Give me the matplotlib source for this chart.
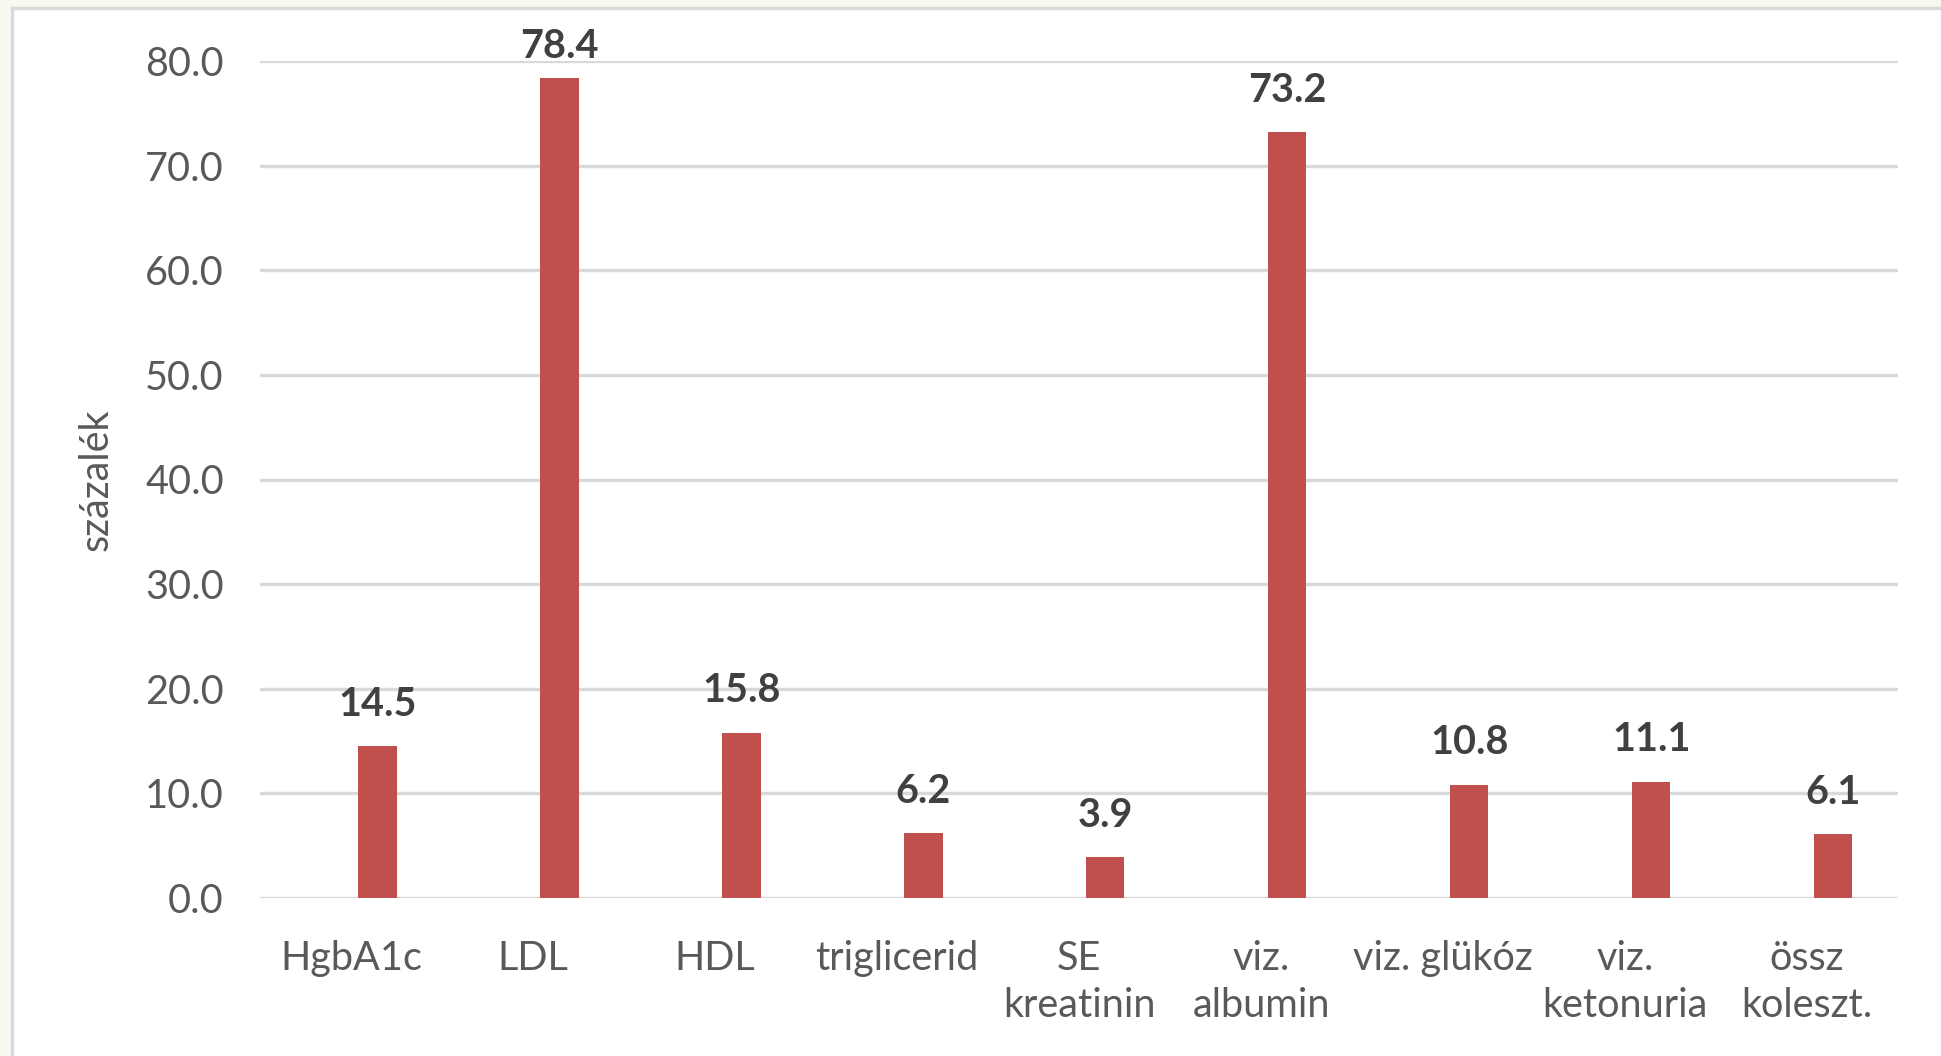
import matplotlib.pyplot as plt
from matplotlib.patches import Rectangle

# adatok
categories = ["HgbA1c", "LDL", "HDL", "triglicerid", "SE\nkreatinin",
              "viz.\nalbumin", "viz. glükóz", "viz.\nketonuria", "össz\nkoleszt."]
values = [14.5, 78.4, 15.8, 6.2, 3.9, 73.2, 10.8, 11.1, 6.1]
yticks = [0, 10, 20, 30, 40, 50, 60, 70, 80]

plt.rcParams['font.family'] = ['Lato', 'DejaVu Sans']

W, H = 1941, 1056
fig = plt.figure(figsize=(W / 100, H / 100), dpi=100)
fig.patch.set_facecolor('#F8F8F1')

# chart frame (cut off on right and bottom)
frame = Rectangle((12 / W, -0.05), 1.1, 1 - 8 / H + 0.05, transform=fig.transFigure,
                  facecolor='white', edgecolor='#D9D9D9', linewidth=2.5, zorder=-10)
fig.patches.append(frame)

ax = fig.add_axes([260 / W, 1 - 898 / H, (1898 - 260) / W, (898 - 61) / H])
ax.set_facecolor('none')

x = list(range(len(categories)))
# bars sit right of the category centre (empty second series slot in the original)
bars = ax.bar([i + 0.145 for i in x], values, width=0.21, color='#C0504D', zorder=3)

# labels: the tallest one is squeezed under the top edge
top = max(values)
lab_normal = [f"{v:.1f}" if v < top else "" for v in values]
lab_top = [f"{v:.1f}" if v == top else "" for v in values]
ax.bar_label(bars, labels=lab_normal, padding=17,
             fontsize=28.5, fontweight='bold', color='#404040')
ax.bar_label(bars, labels=lab_top, padding=9,
             fontsize=28.5, fontweight='bold', color='#404040')

ax.set_xlim(-0.5, len(categories) - 0.5)
ax.set_ylim(0, 80)
ax.set_yticks(yticks)
ax.set_yticklabels([f"{t:.1f}" for t in yticks])
ax.set_xticks(x)
ax.set_xticklabels(categories, linespacing=1.35)

ax.grid(axis='y', color='#D9D9D9', linewidth=2.4, zorder=0)
ax.set_axisbelow(True)
for s in ax.spines.values():
    s.set_visible(False)
ax.tick_params(axis='both', length=0, labelsize=28.5, labelcolor='#595959')
ax.tick_params(axis='y', pad=26)
ax.tick_params(axis='x', pad=30)

ax.set_ylabel("százalék", fontsize=28.5, color='#595959', labelpad=22)

fig.savefig("out.png", dpi=100, facecolor=fig.get_facecolor())
